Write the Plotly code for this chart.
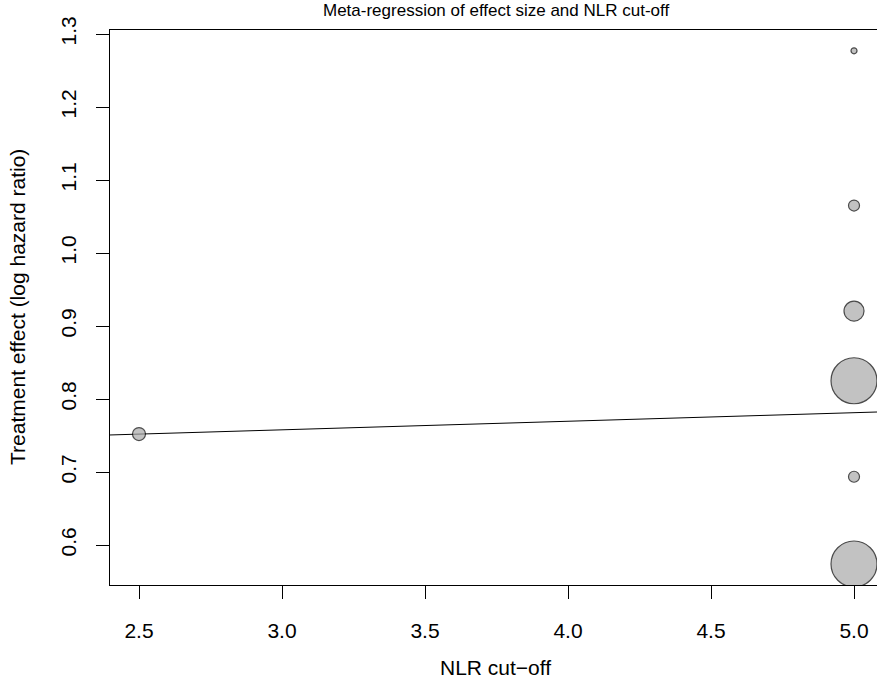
import plotly.graph_objects as go

# Data
nlr_cutoff = [2.5, 5.0, 5.0, 5.0, 5.0, 5.0, 5.0]
log_hr = [0.752, 1.277, 1.065, 0.9205, 0.825, 0.6935, 0.574]
point_size = [13, 6, 11, 20, 46, 11, 46]

reg_intercept_at_2_5 = 0.7519
reg_slope = 0.01174

x_ticks = [2.5, 3.0, 3.5, 4.0, 4.5, 5.0]
y_ticks = [0.6, 0.7, 0.8, 0.9, 1.0, 1.1, 1.2, 1.3]

x_range = [2.3986, 5.0804]
y_range = [0.5452, 1.3055]

FONT = "Liberation Sans, Arial, Helvetica, sans-serif"

line_x = [x_range[0], x_range[1]]
line_y = [reg_intercept_at_2_5 + reg_slope * (v - 2.5) for v in line_x]

fig = go.Figure()
fig.add_trace(go.Scatter(
    x=line_x, y=line_y, mode="lines",
    line=dict(color="black", width=1),
    hoverinfo="skip", showlegend=False,
))
fig.add_trace(go.Scatter(
    x=nlr_cutoff, y=log_hr, mode="markers",
    marker=dict(size=point_size, sizemode="diameter", color="#A9A9A9",
                line=dict(color="black", width=1.2)),
    showlegend=False,
))

fig.update_layout(
    width=877, height=687,
    margin=dict(l=110, r=0, t=30, b=102),
    paper_bgcolor="white", plot_bgcolor="white",
    font=dict(family=FONT, color="black", size=21),
    xaxis=dict(
        range=x_range, tickvals=x_ticks, tickformat=".1f",
        showline=True, linecolor="black", linewidth=1, mirror=True,
        ticks="outside", ticklen=13, tickwidth=1, tickcolor="black",
        showgrid=False, zeroline=False, ticklabelstandoff=14,
        tickfont=dict(size=21, family=FONT),
    ),
    yaxis=dict(
        range=y_range, tickvals=y_ticks, tickformat=".1f",
        showline=True, linecolor="black", linewidth=1, mirror=False,
        ticks="outside", ticklen=13, tickwidth=1, tickcolor="black",
        showgrid=False, zeroline=False, tickangle=-90, ticklabelstandoff=12,
        tickfont=dict(size=21, family=FONT),
    ),
    annotations=[
        dict(text="Meta-regression of effect size and NLR cut-off",
             xref="paper", yref="paper", x=0.503, y=1.0, yshift=20,
             xanchor="center", yanchor="middle", showarrow=False,
             font=dict(size=17, family=FONT)),
        dict(text="NLR cut\u2212off",
             xref="paper", yref="paper", x=0.503, y=0, yshift=-82,
             xanchor="center", yanchor="middle", showarrow=False,
             font=dict(size=21, family=FONT)),
        dict(text="Treatment effect (log hazard ratio)",
             xref="paper", yref="paper", x=0, xshift=-92, y=0.501,
             xanchor="center", yanchor="middle", showarrow=False, textangle=-90,
             font=dict(size=21, family=FONT)),
    ],
)

fig.write_html(
    "out.html",
    config={"displayModeBar": False},
    post_script="document.body.style.margin='0';document.body.style.overflow='hidden';",
)
